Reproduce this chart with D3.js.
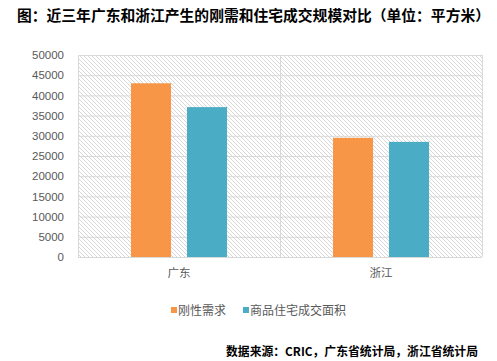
<!DOCTYPE html>
<html><head><meta charset="utf-8">
<script src="https://cdn.jsdelivr.net/npm/d3@7"></script>
<style>body{margin:0;background:#fff}svg{display:block}</style>
</head><body>
<script>
const categories = ["广东", "浙江"];
const seriesNames = ["刚性需求", "商品住宅成交面积"];
const rigidDemand = [43000, 29500];
const housingSales = [37100, 28500];
const yTicks = [0,5000,10000,15000,20000,25000,30000,35000,40000,45000,50000];
const colors = ["#F79646", "#4BACC6"];
const title = "图：近三年广东和浙江产生的刚需和住宅成交规模对比（单位：平方米）";
const source = "数据来源：CRIC，广东省统计局，浙江省统计局";

const W = 497, H = 361;
const svg = d3.select("body").append("svg").attr("width", W).attr("height", H);
const defs = svg.append("defs");
const pat = defs.append("pattern").attr("id","hatch").attr("patternUnits","userSpaceOnUse")
  .attr("width",4).attr("height",4);
pat.append("path").attr("d","M-1,-1L5,5M3,-1L5,1M-1,3L1,5").attr("stroke","#d4d4d4").attr("stroke-width",0.9);

const L = 78, R = 482, T = 55, B = 257;
const x0 = d3.scaleBand().domain(categories).range([L, R]);
const x1 = d3.scaleBand().domain(seriesNames).range([0, 96]).paddingInner(0.3);
const y = d3.scaleLinear().domain([0, 50000]).range([B, T]);

svg.append("rect").attr("x",L).attr("y",T).attr("width",R-L).attr("height",B-T).attr("fill","url(#hatch)");

const g = svg.append("g");
g.selectAll("line.h").data(yTicks).join("line")
  .attr("x1",L).attr("x2",R).attr("y1",d=>y(d)+0.5).attr("y2",d=>y(d)+0.5)
  .attr("stroke","#d9d9d9").attr("stroke-width",1);
const vlines = [L, ...categories.map(c=>x0(c)+x0.bandwidth())];
g.selectAll("line.v").data(vlines).join("line")
  .attr("x1",d=>Math.round(d)+0.5).attr("x2",d=>Math.round(d)+0.5).attr("y1",T).attr("y2",B)
  .attr("stroke","#d9d9d9").attr("stroke-width",1);

const series = [rigidDemand, housingSales];
categories.forEach((c, i) => {
  const cx = x0(c) + x0.bandwidth()/2 - 48;
  seriesNames.forEach((s, j) => {
    svg.append("rect")
      .attr("x", Math.round(cx + x1(s)))
      .attr("y", y(series[j][i]))
      .attr("width", Math.round(x1.bandwidth()))
      .attr("height", B - y(series[j][i]))
      .attr("fill", colors[j]);
  });
});

// y axis labels
const yAxis = d3.axisLeft(y).tickValues(yTicks).tickFormat(d3.format("d")).tickSize(0).tickPadding(0);
const ya = svg.append("g").attr("transform",`translate(${64},0)`).call(yAxis);
ya.select(".domain").remove();
ya.selectAll("text").attr("font-family","Arial, Liberation Sans, sans-serif").attr("font-size",11.5).attr("fill","#595959");

// x axis labels
const xAxis = d3.axisBottom(x0).tickSize(0).tickPadding(0);
const xa = svg.append("g").attr("transform",`translate(0,${269})`).call(xAxis);
xa.select(".domain").remove();
xa.selectAll("text").attr("font-family","Noto Sans CJK SC, sans-serif").attr("font-size",11.5).attr("fill","#595959");

// legend
const leg = svg.append("g");
const legX = [171, 243];
seriesNames.forEach((s,j)=>{
  leg.append("rect").attr("x",legX[j]).attr("y",307).attr("width",6).attr("height",6).attr("fill",colors[j]);
  leg.append("text").attr("x",legX[j]+7).attr("y",314.5).text(s)
    .attr("font-family","Noto Sans CJK SC, sans-serif").attr("font-size",12).attr("fill","#595959");
});

// title
svg.append("text").attr("x",17).attr("y",20.5).text(title)
  .attr("font-family","Noto Sans CJK SC, sans-serif").attr("font-weight","bold").attr("font-size",14.5)
  .attr("textLength",473).attr("lengthAdjust","spacingAndGlyphs").attr("fill","#000");

// source
svg.append("text").attr("x",226).attr("y",355.5).text(source)
  .attr("font-family","Noto Sans CJK SC, sans-serif").attr("font-weight","bold").attr("font-size",12)
  .attr("textLength",252).attr("lengthAdjust","spacingAndGlyphs").attr("fill","#000");
</script>
</body></html>
